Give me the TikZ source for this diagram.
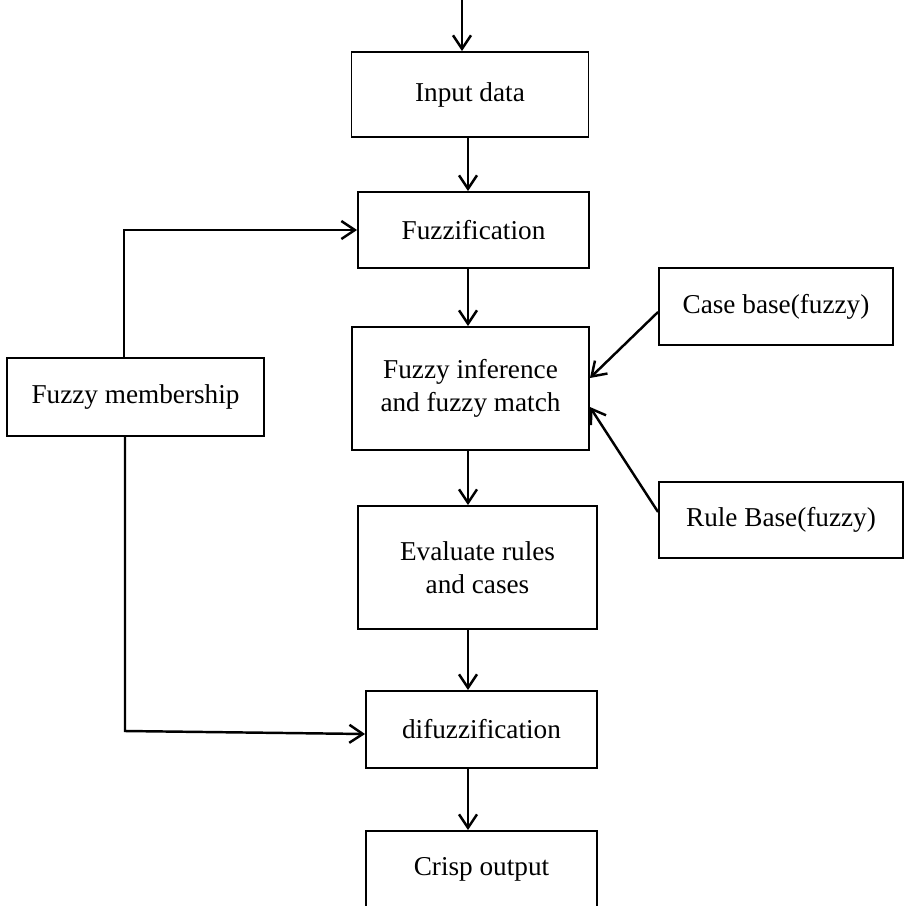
\documentclass[tikz,border=0pt]{standalone}
\usepackage{fontspec}
\setmainfont{Liberation Serif}
\usetikzlibrary{arrows.meta}

\begin{document}
\begin{tikzpicture}[
    x=0.02cm, y=-0.02cm,
    every node/.style={
      font=\fontsize{15.5}{19}\selectfont
    },
    block/.style={
      draw,
      line width=1.1pt,
      align=center,
      inner sep=0pt},
    flow/.style={
      draw,
      line width=1.4pt,
      -{Straight Barb[length=2.7mm,width=3.6mm,line width=1.4pt]}},
  ]
  \useasboundingbox (0,0) rectangle (904,906);

  % main column
  \node[block, minimum width=4.74cm, minimum height=1.70cm] (in)  at (470,94.5)  {Input data};
  \node[block, minimum width=4.62cm, minimum height=1.52cm] (fz)  at (473.5,230) {Fuzzification};
  \node[block, minimum width=4.74cm, minimum height=2.46cm] (inf) at (470.5,388.5) {Fuzzy inference\\and fuzzy match};
  \node[block, minimum width=4.78cm, minimum height=2.46cm] (ev)  at (477.5,567.5) {Evaluate rules\\and cases};
  \node[block, minimum width=4.62cm, minimum height=1.54cm] (df)  at (481.5,729.5) {difuzzification};
  \node[block, minimum width=4.62cm, minimum height=1.52cm] (cr)  at (481.5,869)   {Crisp output};

  % side boxes
  \node[block, minimum width=5.14cm, minimum height=1.56cm] (mem) at (135.5,397) {Fuzzy membership};
  \node[block, minimum width=4.68cm, minimum height=1.54cm] (cb)  at (776,306.5)  {Case base(fuzzy)};
  \node[block, minimum width=4.88cm, minimum height=1.52cm] (rb)  at (781,520)    {Rule Base(fuzzy)};

  \coordinate (top)  at (462,0);
  \coordinate (axis) at (468,0);
  \coordinate (mtop) at (124,230);
  \coordinate (mbot) at (125,731);

  \draw[flow] (top) -- (top |- in.north);
  \draw[flow] (in.south -| axis) -- (fz.north -| axis);
  \draw[flow] (fz.south -| axis) -- (inf.north -| axis);
  \draw[flow] (inf.south -| axis) -- (ev.north -| axis);
  \draw[flow] (ev.south -| axis) -- (df.north -| axis);
  \draw[flow] (df.south -| axis) -- (cr.north -| axis);

  \draw[flow] (mem.north -| mtop) -- (mtop) -- (fz.west);
  \draw[flow] (mem.south -| mbot) -- (mbot) -- ([yshift=-0.09cm]df.west);

  \draw[flow] ([yshift=-0.11cm]cb.west) -- ([yshift=0.21cm]inf.east);
  \draw[flow] ([yshift=0.16cm]rb.west) -- ([yshift=-0.37cm]inf.east);
\end{tikzpicture}
\end{document}
